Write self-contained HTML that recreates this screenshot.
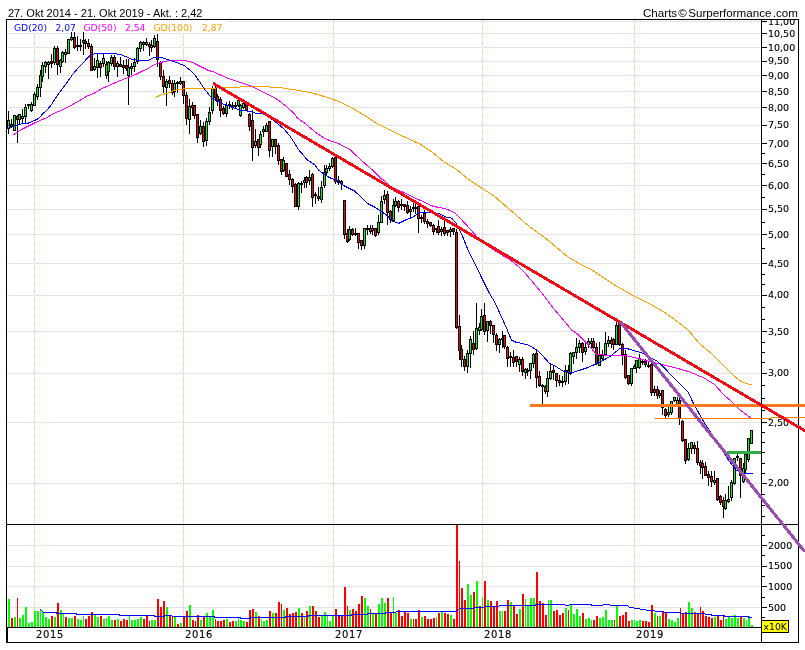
<!DOCTYPE html>
<html><head><meta charset="utf-8"><title>Chart</title>
<style>html,body{margin:0;padding:0;background:#fff;overflow:hidden}svg{display:block}</style>
</head><body>
<svg width="805" height="650" viewBox="0 0 805 650" shape-rendering="crispEdges">
<rect x="0" y="0" width="805" height="650" fill="#fff"/>
<path d="M7 21.5H761 M7 33.5H761 M7 47.5H761 M7 61.5H761 M7 75.5H761 M7 91.5H761 M7 107.5H761 M7 125.5H761 M7 143.5H761 M7 163.5H761 M7 185.5H761 M7 209.5H761 M7 234.5H761 M7 263.5H761 M7 295.5H761 M7 331.5H761 M7 373.5H761 M7 422.5H761 M7 483.5H761 M7 607.5H761 M7 586.5H761 M7 566.5H761 M7 545.5H761" stroke="#ffcdff" stroke-width="1" stroke-dasharray="1 1" fill="none"/>
<path d="M7 21.5H761 M7 33.5H761 M7 47.5H761 M7 61.5H761 M7 75.5H761 M7 91.5H761 M7 107.5H761 M7 125.5H761 M7 143.5H761 M7 163.5H761 M7 185.5H761 M7 209.5H761 M7 234.5H761 M7 263.5H761 M7 295.5H761 M7 331.5H761 M7 373.5H761 M7 422.5H761 M7 483.5H761 M7 607.5H761 M7 586.5H761 M7 566.5H761 M7 545.5H761" stroke="#cdf5cd" stroke-width="1" stroke-dasharray="1 1" stroke-dashoffset="1" fill="none"/>
<path d="M34.5 20V524 M34.5 525V627 M183.5 20V524 M183.5 525V627 M333.5 20V524 M333.5 525V627 M482.5 20V524 M482.5 525V627 M634.5 20V524 M634.5 525V627" stroke="#cdcdff" stroke-width="1" stroke-dasharray="1 1" fill="none"/>
<path d="M34.5 20V524 M34.5 525V627 M183.5 20V524 M183.5 525V627 M333.5 20V524 M333.5 525V627 M482.5 20V524 M482.5 525V627 M634.5 20V524 M634.5 525V627" stroke="#fff5b4" stroke-width="1" stroke-dasharray="1 1" stroke-dashoffset="1" fill="none"/>
<rect x="7" y="20" width="220" height="13" fill="#fff"/>
<path d="M8.5 111V134 M11.5 119V128 M14.5 115V131 M17.5 115V143 M19.5 114V124 M22.5 109V124 M25.5 104V123 M28.5 104V109 M31.5 102V112 M34.5 92V106 M37.5 84V100 M40.5 70V97 M42.5 62V82 M45.5 61V73 M48.5 61V79 M51.5 54V68 M54.5 46V65 M57.5 46V75 M60.5 59V73 M62.5 51V63 M65.5 49V63 M68.5 39V54 M71.5 32V41 M74.5 32V49 M77.5 36V51 M80.5 39V51 M83.5 32V55 M85.5 39V49 M88.5 39V49 M91.5 44V71 M94.5 58V71 M97.5 54V78 M100.5 61V77 M103.5 54V67 M106.5 61V79 M108.5 61V82 M111.5 55V66 M114.5 55V70 M117.5 61V77 M120.5 57V67 M123.5 60V74 M126.5 59V71 M128.5 59V105 M131.5 63V75 M134.5 58V72 M137.5 47V64 M140.5 41V52 M143.5 41V51 M146.5 38V46 M149.5 42V56 M151.5 40V52 M154.5 35V48 M157.5 34V67 M160.5 61V80 M163.5 70V93 M166.5 79V106 M169.5 76V88 M172.5 80V95 M174.5 80V97 M177.5 81V93 M180.5 77V85 M183.5 81V104 M186.5 92V125 M189.5 99V134 M192.5 102V116 M194.5 105V119 M197.5 114V143 M200.5 120V135 M203.5 122V147 M206.5 118V146 M209.5 107V125 M212.5 86V114 M215.5 86V101 M217.5 94V106 M220.5 97V117 M223.5 106V115 M226.5 102V117 M229.5 101V109 M232.5 102V110 M235.5 102V109 M238.5 100V107 M240.5 104V117 M243.5 103V109 M246.5 104V111 M249.5 113V131 M252.5 110V161 M255.5 129V148 M258.5 139V156 M260.5 131V148 M263.5 126V137 M266.5 123V132 M269.5 121V157 M272.5 139V157 M275.5 139V154 M278.5 143V165 M281.5 159V175 M283.5 157V172 M286.5 163V177 M289.5 170V185 M292.5 178V193 M295.5 183V207 M298.5 182V210 M301.5 181V193 M304.5 177V188 M306.5 176V188 M309.5 170V185 M312.5 173V207 M315.5 192V204 M318.5 187V201 M321.5 181V203 M324.5 165V188 M326.5 165V175 M329.5 163V171 M332.5 157V168 M335.5 157V184 M338.5 176V185 M341.5 180V190 M344.5 200V239 M347.5 229V243 M349.5 226V241 M352.5 228V236 M355.5 228V236 M358.5 233V249 M361.5 240V250 M364.5 228V249 M367.5 225V235 M370.5 225V234 M372.5 225V235 M375.5 228V237 M378.5 215V235 M381.5 196V223 M384.5 190V204 M387.5 191V225 M390.5 210V223 M393.5 199V221 M395.5 197V207 M398.5 200V212 M401.5 199V210 M404.5 204V211 M407.5 201V214 M410.5 206V217 M413.5 203V212 M415.5 204V214 M418.5 206V233 M421.5 215V223 M424.5 210V224 M427.5 219V228 M430.5 222V227 M433.5 224V235 M436.5 228V233 M438.5 220V235 M441.5 227V236 M444.5 220V236 M447.5 230V236 M450.5 227V237 M453.5 228V235 M456.5 229V329 M459.5 315V360 M461.5 345V367 M464.5 356V371 M467.5 350V373 M470.5 336V368 M473.5 331V355 M476.5 303V350 M479.5 323V335 M481.5 309V331 M484.5 303V335 M487.5 321V342 M490.5 320V334 M493.5 325V343 M496.5 333V351 M499.5 338V353 M502.5 331V348 M504.5 335V349 M507.5 346V367 M510.5 352V367 M513.5 350V367 M516.5 356V367 M519.5 357V372 M522.5 357V376 M525.5 368V379 M527.5 368V376 M530.5 363V379 M533.5 353V368 M536.5 350V388 M539.5 371V387 M542.5 384V405 M545.5 385V394 M547.5 371V397 M550.5 364V380 M553.5 366V380 M556.5 373V387 M559.5 375V386 M562.5 376V387 M565.5 365V385 M568.5 365V384 M570.5 352V375 M573.5 352V364 M576.5 338V359 M579.5 340V353 M582.5 342V362 M585.5 343V355 M588.5 338V348 M591.5 338V348 M593.5 338V349 M596.5 343V365 M599.5 342V366 M602.5 350V361 M605.5 332V356 M608.5 336V347 M611.5 337V348 M613.5 338V350 M616.5 322V345 M619.5 321V346 M622.5 343V365 M625.5 350V379 M628.5 375V385 M631.5 368V386 M634.5 364V369 M636.5 360V373 M639.5 354V369 M642.5 359V365 M645.5 359V367 M648.5 361V368 M651.5 363V396 M654.5 386V396 M657.5 386V399 M659.5 390V398 M662.5 390V415 M665.5 408V419 M668.5 404V417 M671.5 401V415 M674.5 397V402 M677.5 397V406 M679.5 398V425 M682.5 420V442 M685.5 439V464 M688.5 443V461 M691.5 442V454 M694.5 442V454 M697.5 441V465 M700.5 460V474 M702.5 460V479 M705.5 462V476 M708.5 471V486 M711.5 471V487 M714.5 471V485 M717.5 478V501 M720.5 495V505 M723.5 497V518 M725.5 494V510 M728.5 486V503 M731.5 480V501 M734.5 458V485 M737.5 454V461 M740.5 458V498 M743.5 463V483 M745.5 453V473 M748.5 438V462 M751.5 430V444" stroke="#000" stroke-width="1" fill="none"/>
<path d="M7 120h3v9h-3z M10 124h3v3h-3z M13 115h3v16h-3z M16 116h3v4h-3z M18 114h3v6h-3z M21 116h3v3h-3z M24 107h3v10h-3z M27 104h3v2h-3z M30 104h3v7h-3z M33 94h3v12h-3z M36 87h3v10h-3z M39 75h3v13h-3z M41 65h3v12h-3z M44 62h3v5h-3z M47 62h3v3h-3z M50 61h3v3h-3z M53 48h3v15h-3z M56 48h3v17h-3z M59 60h3v7h-3z M61 52h3v10h-3z M64 52h3v3h-3z M67 39h3v15h-3z M70 37h3v3h-3z M73 37h3v11h-3z M76 45h3v2h-3z M79 45h3v2h-3z M82 40h3v3h-3z M84 41h3v3h-3z M87 43h3v4h-3z M90 46h3v25h-3z M93 66h3v4h-3z M96 60h3v8h-3z M99 63h3v5h-3z M102 58h3v6h-3z M105 64h3v12h-3z M107 62h3v10h-3z M110 57h3v7h-3z M113 57h3v10h-3z M116 63h3v4h-3z M119 64h3v3h-3z M122 65h3v3h-3z M125 65h3v4h-3z M127 67h3v9h-3z M130 66h3v3h-3z M133 62h3v5h-3z M136 48h3v14h-3z M139 42h3v7h-3z M142 42h3v3h-3z M145 42h3v3h-3z M148 44h3v3h-3z M150 45h3v3h-3z M153 38h3v9h-3z M156 41h3v19h-3z M159 62h3v15h-3z M162 76h3v11h-3z M165 81h3v7h-3z M168 80h3v4h-3z M171 83h3v10h-3z M173 83h3v9h-3z M176 82h3v2h-3z M179 81h3v3h-3z M182 81h3v15h-3z M185 95h3v24h-3z M188 106h3v14h-3z M191 105h3v3h-3z M193 105h3v11h-3z M196 114h3v24h-3z M199 126h3v8h-3z M202 126h3v16h-3z M205 121h3v20h-3z M208 112h3v10h-3z M211 88h3v23h-3z M214 88h3v10h-3z M216 96h3v6h-3z M219 99h3v12h-3z M222 108h3v6h-3z M225 105h3v9h-3z M228 104h3v2h-3z M231 105h3v3h-3z M234 105h3v2h-3z M237 100h3v6h-3z M239 105h3v11h-3z M242 103h3v5h-3z M245 104h3v7h-3z M248 114h3v13h-3z M251 120h3v28h-3z M254 141h3v5h-3z M257 139h3v9h-3z M259 134h3v11h-3z M262 129h3v3h-3z M265 125h3v7h-3z M268 121h3v30h-3z M271 139h3v8h-3z M274 139h3v8h-3z M277 145h3v16h-3z M280 159h3v13h-3z M282 160h3v11h-3z M285 163h3v14h-3z M288 174h3v6h-3z M291 179h3v8h-3z M294 184h3v23h-3z M297 183h3v24h-3z M300 183h3v2h-3z M303 180h3v3h-3z M305 177h3v6h-3z M308 177h3v4h-3z M311 174h3v24h-3z M314 194h3v2h-3z M317 196h3v3h-3z M320 187h3v13h-3z M323 172h3v14h-3z M325 168h3v5h-3z M328 166h3v3h-3z M331 158h3v9h-3z M334 157h3v25h-3z M337 180h3v3h-3z M340 181h3v3h-3z M343 200h3v35h-3z M346 233h3v9h-3z M348 229h3v11h-3z M351 229h3v6h-3z M354 233h3v2h-3z M357 233h3v10h-3z M360 240h3v6h-3z M363 228h3v18h-3z M366 228h3v2h-3z M369 228h3v4h-3z M371 228h3v3h-3z M374 228h3v8h-3z M377 222h3v11h-3z M380 201h3v22h-3z M383 195h3v5h-3z M386 194h3v19h-3z M389 211h3v9h-3z M392 205h3v16h-3z M394 201h3v5h-3z M397 201h3v7h-3z M400 204h3v2h-3z M403 204h3v3h-3z M406 205h3v8h-3z M409 209h3v3h-3z M412 207h3v2h-3z M414 207h3v2h-3z M417 206h3v13h-3z M420 217h3v2h-3z M423 213h3v9h-3z M426 221h3v3h-3z M429 222h3v4h-3z M432 225h3v7h-3z M435 228h3v2h-3z M437 226h3v7h-3z M440 229h3v3h-3z M443 227h3v7h-3z M446 230h3v3h-3z M449 229h3v3h-3z M452 228h3v4h-3z M455 232h3v96h-3z M458 326h3v25h-3z M460 349h3v11h-3z M463 359h3v8h-3z M466 353h3v14h-3z M469 339h3v15h-3z M472 343h3v7h-3z M475 328h3v21h-3z M478 327h3v4h-3z M480 316h3v14h-3z M483 315h3v17h-3z M486 321h3v10h-3z M489 321h3v5h-3z M492 325h3v10h-3z M495 335h3v10h-3z M498 339h3v6h-3z M501 338h3v2h-3z M503 335h3v12h-3z M506 347h3v12h-3z M509 356h3v2h-3z M512 357h3v6h-3z M515 356h3v6h-3z M518 359h3v6h-3z M521 359h3v13h-3z M524 369h3v4h-3z M526 370h3v2h-3z M529 363h3v8h-3z M532 354h3v10h-3z M535 353h3v25h-3z M538 376h3v10h-3z M541 385h3v2h-3z M544 386h3v6h-3z M546 378h3v14h-3z M549 371h3v8h-3z M552 370h3v3h-3z M555 373h3v8h-3z M558 380h3v3h-3z M561 381h3v2h-3z M564 370h3v12h-3z M567 370h3v3h-3z M569 353h3v21h-3z M572 352h3v5h-3z M575 347h3v6h-3z M578 343h3v5h-3z M581 343h3v10h-3z M584 347h3v5h-3z M587 341h3v4h-3z M590 341h3v3h-3z M592 341h3v7h-3z M595 347h3v17h-3z M598 355h3v11h-3z M601 355h3v4h-3z M604 343h3v12h-3z M607 340h3v4h-3z M610 340h3v4h-3z M612 339h3v6h-3z M615 325h3v20h-3z M618 321h3v24h-3z M621 344h3v11h-3z M624 354h3v24h-3z M627 375h3v9h-3z M630 368h3v16h-3z M633 366h3v3h-3z M635 360h3v8h-3z M638 358h3v10h-3z M641 361h3v2h-3z M644 361h3v4h-3z M647 365h3v2h-3z M650 364h3v29h-3z M653 389h3v4h-3z M656 389h3v7h-3z M658 393h3v3h-3z M661 390h3v18h-3z M664 409h3v7h-3z M667 412h3v3h-3z M670 401h3v12h-3z M673 397h3v4h-3z M676 400h3v5h-3z M678 400h3v19h-3z M681 421h3v20h-3z M684 439h3v22h-3z M687 448h3v12h-3z M690 442h3v7h-3z M693 445h3v4h-3z M696 448h3v15h-3z M699 462h3v4h-3z M701 463h3v5h-3z M704 466h3v10h-3z M707 474h3v4h-3z M710 476h3v6h-3z M713 480h3v3h-3z M716 478h3v22h-3z M719 496h3v7h-3z M722 500h3v7h-3z M724 500h3v9h-3z M727 499h3v3h-3z M730 482h3v16h-3z M733 458h3v26h-3z M736 456h3v2h-3z M739 458h3v18h-3z M742 468h3v14h-3z M744 454h3v16h-3z M747 438h3v22h-3z M750 430h3v14h-3z" fill="#000"/>
<path d="M8 121h1v7h-1z M14 116h1v14h-1z M19 115h1v4h-1z M22 117h1v1h-1z M25 108h1v8h-1z M31 105h1v5h-1z M34 95h1v10h-1z M37 88h1v8h-1z M40 76h1v11h-1z M42 66h1v10h-1z M45 63h1v3h-1z M48 63h1v1h-1z M54 49h1v13h-1z M60 61h1v5h-1z M62 53h1v8h-1z M65 53h1v1h-1z M68 40h1v13h-1z M71 38h1v1h-1z M83 41h1v1h-1z M94 67h1v2h-1z M97 61h1v6h-1z M103 59h1v4h-1z M106 65h1v10h-1z M108 63h1v8h-1z M111 58h1v5h-1z M117 64h1v2h-1z M128 68h1v7h-1z M131 67h1v1h-1z M134 63h1v3h-1z M137 49h1v12h-1z M140 43h1v5h-1z M146 43h1v1h-1z M151 46h1v1h-1z M154 39h1v7h-1z M166 82h1v5h-1z M174 84h1v7h-1z M180 82h1v1h-1z M189 107h1v12h-1z M200 127h1v6h-1z M206 122h1v18h-1z M209 113h1v8h-1z M212 89h1v21h-1z M226 106h1v7h-1z M238 101h1v4h-1z M240 106h1v9h-1z M243 104h1v3h-1z M255 142h1v3h-1z M260 135h1v9h-1z M263 130h1v1h-1z M266 126h1v5h-1z M272 140h1v6h-1z M283 161h1v9h-1z M298 184h1v22h-1z M304 181h1v1h-1z M309 178h1v2h-1z M321 188h1v11h-1z M324 173h1v12h-1z M326 169h1v3h-1z M329 167h1v1h-1z M332 159h1v7h-1z M349 230h1v9h-1z M364 229h1v16h-1z M372 229h1v1h-1z M378 223h1v9h-1z M381 202h1v20h-1z M384 196h1v3h-1z M393 206h1v14h-1z M395 202h1v3h-1z M410 210h1v1h-1z M441 230h1v1h-1z M450 230h1v1h-1z M467 354h1v12h-1z M470 340h1v13h-1z M476 329h1v19h-1z M479 328h1v2h-1z M481 317h1v12h-1z M487 322h1v8h-1z M499 340h1v4h-1z M519 360h1v4h-1z M525 370h1v2h-1z M530 364h1v6h-1z M533 355h1v8h-1z M547 379h1v12h-1z M550 372h1v6h-1z M565 371h1v10h-1z M570 354h1v19h-1z M573 353h1v3h-1z M576 348h1v4h-1z M579 344h1v3h-1z M585 348h1v3h-1z M588 342h1v2h-1z M591 342h1v1h-1z M599 356h1v9h-1z M602 356h1v2h-1z M605 344h1v10h-1z M608 341h1v2h-1z M616 326h1v18h-1z M631 369h1v14h-1z M634 367h1v1h-1z M636 361h1v6h-1z M639 359h1v8h-1z M659 394h1v1h-1z M668 413h1v1h-1z M671 402h1v10h-1z M674 398h1v2h-1z M677 401h1v3h-1z M688 449h1v10h-1z M691 443h1v5h-1z M714 481h1v1h-1z M725 501h1v7h-1z M728 500h1v1h-1z M731 483h1v14h-1z M734 459h1v24h-1z M743 469h1v12h-1z M745 455h1v14h-1z M748 439h1v20h-1z M751 431h1v12h-1z" fill="#00ff00"/>
<path d="M11 125h1v1h-1z M17 117h1v2h-1z M51 62h1v1h-1z M57 49h1v15h-1z M74 38h1v9h-1z M85 42h1v1h-1z M88 44h1v2h-1z M91 47h1v23h-1z M100 64h1v3h-1z M114 58h1v8h-1z M120 65h1v1h-1z M123 66h1v1h-1z M126 66h1v2h-1z M143 43h1v1h-1z M149 45h1v1h-1z M157 42h1v17h-1z M160 63h1v13h-1z M163 77h1v9h-1z M169 81h1v2h-1z M172 84h1v8h-1z M183 82h1v13h-1z M186 96h1v22h-1z M192 106h1v1h-1z M194 106h1v9h-1z M197 115h1v22h-1z M203 127h1v14h-1z M215 89h1v8h-1z M217 97h1v4h-1z M220 100h1v10h-1z M223 109h1v4h-1z M232 106h1v1h-1z M246 105h1v5h-1z M249 115h1v11h-1z M252 121h1v26h-1z M258 140h1v7h-1z M269 122h1v28h-1z M275 140h1v6h-1z M278 146h1v14h-1z M281 160h1v11h-1z M286 164h1v12h-1z M289 175h1v4h-1z M292 180h1v6h-1z M295 185h1v21h-1z M306 178h1v4h-1z M312 175h1v22h-1z M318 197h1v1h-1z M335 158h1v23h-1z M338 181h1v1h-1z M341 182h1v1h-1z M344 201h1v33h-1z M347 234h1v7h-1z M352 230h1v4h-1z M358 234h1v8h-1z M361 241h1v4h-1z M370 229h1v2h-1z M375 229h1v6h-1z M387 195h1v17h-1z M390 212h1v7h-1z M398 202h1v5h-1z M404 205h1v1h-1z M407 206h1v6h-1z M418 207h1v11h-1z M424 214h1v7h-1z M427 222h1v1h-1z M430 223h1v2h-1z M433 226h1v5h-1z M438 227h1v5h-1z M444 228h1v5h-1z M447 231h1v1h-1z M453 229h1v2h-1z M456 233h1v94h-1z M459 327h1v23h-1z M461 350h1v9h-1z M464 360h1v6h-1z M473 344h1v5h-1z M484 316h1v15h-1z M490 322h1v3h-1z M493 326h1v8h-1z M496 336h1v8h-1z M504 336h1v10h-1z M507 348h1v10h-1z M513 358h1v4h-1z M516 357h1v4h-1z M522 360h1v11h-1z M536 354h1v23h-1z M539 377h1v8h-1z M545 387h1v4h-1z M553 371h1v1h-1z M556 374h1v6h-1z M559 381h1v1h-1z M568 371h1v1h-1z M582 344h1v8h-1z M593 342h1v5h-1z M596 348h1v15h-1z M611 341h1v2h-1z M613 340h1v4h-1z M619 322h1v22h-1z M622 345h1v9h-1z M625 355h1v22h-1z M628 376h1v7h-1z M645 362h1v2h-1z M651 365h1v27h-1z M654 390h1v2h-1z M657 390h1v5h-1z M662 391h1v16h-1z M665 410h1v5h-1z M679 401h1v17h-1z M682 422h1v18h-1z M685 440h1v20h-1z M694 446h1v2h-1z M697 449h1v13h-1z M700 463h1v2h-1z M702 464h1v3h-1z M705 467h1v8h-1z M708 475h1v2h-1z M711 477h1v4h-1z M717 479h1v20h-1z M720 497h1v5h-1z M723 501h1v5h-1z M740 459h1v16h-1z" fill="#ff0000"/>
<path d="M8 599h2v28h-2z M14 617h2v10h-2z M19 618h2v9h-2z M22 615h2v12h-2z M25 607h2v20h-2z M28 623h2v4h-2z M31 622h2v5h-2z M34 611h2v16h-2z M37 611h2v16h-2z M40 609h1v18h-1z M42 612h2v15h-2z M45 617h2v10h-2z M48 619h2v8h-2z M54 617h2v10h-2z M60 610h2v17h-2z M63 614h1v13h-1z M68 618h2v9h-2z M71 618h2v9h-2z M77 619h2v8h-2z M80 620h2v7h-2z M83 616h1v11h-1z M94 615h2v12h-2z M97 617h2v10h-2z M103 619h2v8h-2z M106 618h1v9h-1z M108 616h2v11h-2z M111 620h2v7h-2z M117 619h2v8h-2z M129 616h1v11h-1z M131 620h2v7h-2z M134 620h2v7h-2z M137 619h2v8h-2z M140 617h2v10h-2z M151 620h2v7h-2z M154 620h2v7h-2z M166 607h2v20h-2z M174 617h2v10h-2z M180 623h2v4h-2z M189 605h2v22h-2z M200 620h2v7h-2z M206 613h2v14h-2z M209 617h2v10h-2z M212 610h2v17h-2z M226 619h2v8h-2z M235 621h2v6h-2z M238 618h1v9h-1z M240 620h2v7h-2z M243 621h2v6h-2z M255 612h2v15h-2z M261 619h1v8h-1z M263 621h2v6h-2z M266 620h2v7h-2z M272 613h2v14h-2z M283 610h2v17h-2z M298 608h2v19h-2z M304 617h1v10h-1z M309 606h2v21h-2z M321 616h2v11h-2z M324 612h2v15h-2z M327 616h1v11h-1z M329 621h2v6h-2z M332 616h2v11h-2z M349 610h2v17h-2z M364 598h2v29h-2z M367 606h2v21h-2z M372 614h2v13h-2z M378 604h2v23h-2z M381 598h2v29h-2z M384 603h2v24h-2z M393 597h1v30h-1z M395 613h2v14h-2z M410 619h2v8h-2z M421 617h2v10h-2z M436 617h1v10h-1z M441 612h2v15h-2z M450 615h2v12h-2z M467 584h2v43h-2z M470 595h2v32h-2z M476 581h2v46h-2z M482 597h1v30h-1z M487 600h2v27h-2z M499 611h2v16h-2z M502 611h1v16h-1z M510 602h2v25h-2z M519 609h2v18h-2z M525 599h1v28h-1z M527 606h2v21h-2z M530 598h2v29h-2z M533 598h2v29h-2z M548 600h1v27h-1z M550 600h2v27h-2z M565 608h2v19h-2z M570 605h2v22h-2z M573 614h2v13h-2z M576 609h2v18h-2z M579 616h2v11h-2z M585 619h2v8h-2z M588 618h2v9h-2z M591 620h1v7h-1z M599 618h2v9h-2z M602 617h2v10h-2z M605 610h2v17h-2z M608 620h2v7h-2z M611 620h2v7h-2z M616 606h2v21h-2z M631 620h2v7h-2z M634 620h1v7h-1z M636 621h2v6h-2z M639 620h2v7h-2z M654 613h2v14h-2z M659 616h2v11h-2z M668 619h2v8h-2z M671 620h2v7h-2z M674 622h2v5h-2z M677 618h2v9h-2z M688 602h2v25h-2z M691 608h2v19h-2z M714 617h2v10h-2z M725 619h2v8h-2z M728 617h2v10h-2z M731 618h2v9h-2z M734 615h2v12h-2z M737 618h2v9h-2z M743 618h2v9h-2z M746 620h1v7h-1z M748 616h2v11h-2z M751 625h2v2h-2z" fill="#00ff00"/>
<path d="M11 618h2v9h-2z M17 598h1v29h-1z M51 616h2v11h-2z M57 603h2v24h-2z M65 617h2v10h-2z M74 616h2v11h-2z M85 619h2v8h-2z M88 616h2v11h-2z M91 612h2v15h-2z M100 616h2v11h-2z M114 620h2v7h-2z M120 621h2v6h-2z M123 619h2v8h-2z M126 620h2v7h-2z M143 619h2v8h-2z M146 616h2v11h-2z M149 621h1v6h-1z M157 599h2v28h-2z M160 607h2v20h-2z M163 601h2v26h-2z M169 616h2v11h-2z M172 616h1v11h-1z M177 624h2v3h-2z M183 616h2v11h-2z M186 611h2v16h-2z M192 620h2v7h-2z M195 621h1v6h-1z M197 615h2v12h-2z M203 617h2v10h-2z M215 619h1v8h-1z M217 621h2v6h-2z M220 621h2v6h-2z M223 620h2v7h-2z M229 622h2v5h-2z M232 621h2v6h-2z M246 622h2v5h-2z M249 610h2v17h-2z M252 609h2v18h-2z M258 616h2v11h-2z M269 611h2v16h-2z M275 613h2v14h-2z M278 602h2v25h-2z M281 604h1v23h-1z M286 608h2v19h-2z M289 614h2v13h-2z M292 613h2v14h-2z M295 612h2v15h-2z M301 613h2v14h-2z M306 611h2v16h-2z M312 606h2v21h-2z M315 611h2v16h-2z M318 617h2v10h-2z M335 609h2v18h-2z M338 616h2v11h-2z M341 616h2v11h-2z M344 587h2v40h-2z M347 606h1v21h-1z M352 609h2v18h-2z M355 611h2v16h-2z M358 604h2v23h-2z M361 596h2v31h-2z M370 609h1v18h-1z M375 614h2v13h-2z M387 598h2v29h-2z M390 613h2v14h-2z M398 610h2v17h-2z M401 616h2v11h-2z M404 612h2v15h-2z M407 613h2v14h-2z M413 619h1v8h-1z M415 619h2v8h-2z M418 610h2v17h-2z M424 616h2v11h-2z M427 619h2v8h-2z M430 619h2v8h-2z M433 618h2v9h-2z M438 613h2v14h-2z M444 613h2v14h-2z M447 614h2v13h-2z M453 619h2v8h-2z M456 525h2v102h-2z M459 561h1v66h-1z M461 588h2v39h-2z M464 600h2v27h-2z M473 592h2v35h-2z M479 606h2v21h-2z M484 581h2v46h-2z M490 601h2v26h-2z M493 606h2v21h-2z M496 601h2v26h-2z M504 611h2v16h-2z M507 600h2v27h-2z M513 605h2v22h-2z M516 614h2v13h-2z M522 594h2v33h-2z M536 572h2v55h-2z M539 601h2v26h-2z M542 603h2v24h-2z M545 615h2v12h-2z M553 611h2v16h-2z M556 610h2v17h-2z M559 615h2v12h-2z M562 613h2v14h-2z M568 610h1v17h-1z M582 613h2v14h-2z M593 620h2v7h-2z M596 616h2v11h-2z M614 620h1v7h-1z M619 616h2v11h-2z M622 615h2v12h-2z M625 612h2v15h-2z M628 621h2v6h-2z M642 621h2v6h-2z M645 621h2v6h-2z M648 622h2v5h-2z M651 605h2v22h-2z M657 616h1v11h-1z M662 612h2v15h-2z M665 613h2v14h-2z M680 608h1v19h-1z M682 614h2v13h-2z M685 612h2v15h-2z M694 612h2v15h-2z M697 614h2v13h-2z M700 607h1v20h-1z M702 611h2v16h-2z M705 616h2v11h-2z M708 617h2v10h-2z M711 618h2v9h-2z M717 616h2v11h-2z M720 620h2v7h-2z M723 616h1v11h-1z M740 617h2v10h-2z" fill="#ff0000"/>
<polyline points="40.4,609.5 43.3,612.5 56.0,612.5 57.0,613.5 76.0,613.5 77.0,614.5 119.0,614.5 120.0,615.5 154.0,615.5 155.0,616.5 164.0,616.5 165.0,615.5 171.5,615.5 172.5,616.5 214.0,616.5 215.0,617.5 240.0,617.5 241.0,618.5 250.0,618.5 251.0,617.5 285.0,617.5 286.0,616.5 308.0,616.5 309.0,615.5 338.0,615.5 339.0,616.5 340.0,615.5 351.0,615.5 352.0,614.5 367.0,614.5 368.0,613.5 385.0,613.5 386.0,612.5 395.5,612.5 396.5,611.5 456.0,611.5 457.0,610.5 459.5,609.5 460.5,608.5 465.5,608.5 466.5,608.5 473.5,608.5 474.5,607.5 483.5,607.5 484.5,606.5 498.5,606.5 499.5,605.5 535.0,605.5 536.0,604.5 564.5,604.5 565.5,605.5 568.5,605.5 569.5,604.5 591.0,604.5 592.0,605.5 602.5,605.5 603.5,604.5 609.5,604.5 610.5,605.5 627.5,605.5 629.5,607.5 633.5,607.5 634.5,608.5 639.5,608.5 640.5,609.5 645.5,609.5 646.5,610.5 654.5,610.5 655.5,611.5 663.5,611.5 664.5,612.5 680.5,612.5 681.5,613.5 704.5,613.5 705.5,614.5 711.0,614.5 712.0,615.5 724.0,615.5 725.0,616.5 748.0,616.5 749.0,617.5 752.0,617.5" fill="none" stroke="#0000ff" stroke-width="1" shape-rendering="crispEdges"/>
<polyline points="154.8,97.7 160.0,95.3 164.6,94.0 170.8,92.1 174.5,90.3 183.7,88.9 192.3,88.5 212.4,88.3 224.8,87.4 239.7,87.4 241.0,86.5 245.0,86.3 260.0,86.4 280.0,87.6 296.0,90.0 312.0,93.0 328.0,97.6 340.0,102.0 352.0,108.0 364.0,115.0 376.0,123.0 388.0,129.0 400.0,135.0 420.0,144.0 432.0,152.0 444.0,162.0 456.0,169.0 468.0,179.0 480.0,187.0 494.0,196.0 508.0,208.0 524.0,222.0 534.0,230.0 544.0,237.0 556.0,247.0 568.0,257.0 580.0,264.0 592.0,270.0 604.0,278.0 616.0,286.0 620.0,288.0 632.0,295.0 650.0,304.0 664.0,312.0 678.0,322.0 688.0,330.0 700.0,344.0 712.0,354.0 724.0,366.0 734.0,376.0 742.0,382.0 748.0,384.0 751.6,384.0" fill="none" stroke="#ffa000" stroke-width="1" shape-rendering="crispEdges"/>
<polyline points="12.5,135.3 22.4,129.1 34.8,122.9 47.3,117.3 53.5,113.5 59.7,111.1 65.9,108.0 72.1,104.8 79.6,100.5 87.0,96.1 94.5,93.0 101.9,88.7 110.0,85.0 118.8,81.1 128.6,77.4 137.2,73.7 143.4,70.6 147.4,68.8 153.5,65.1 159.7,62.6 168.3,60.8 176.9,60.2 184.3,60.2 192.9,62.6 200.0,66.3 208.0,70.3 213.6,71.9 221.1,75.3 226.1,77.5 232.3,79.9 240.0,82.4 250.0,85.6 262.4,91.8 274.8,98.0 279.8,101.1 287.3,107.3 293.5,112.9 297.2,117.9 305.9,124.1 314.6,131.6 324.5,138.4 330.7,140.9 339.4,144.0 350.0,149.6 361.8,160.8 374.2,171.5 381.8,179.2 383.7,180.0 390.0,186.0 398.5,190.2 407.0,194.0 415.0,198.0 424.3,202.2 431.7,205.8 437.2,207.2 444.7,208.4 452.0,211.5 455.6,213.4 461.6,219.8 469.5,228.3 478.5,238.7 490.0,247.5 503.6,256.0 509.8,259.5 519.6,267.5 525.8,274.0 535.6,285.5 544.2,296.0 554.0,309.0 563.3,320.0 571.6,330.0 577.2,333.7 587.3,343.8 596.5,354.5 604.0,355.0 612.0,355.0 624.0,355.0 632.0,357.0 644.0,360.0 660.0,364.0 676.0,368.0 690.0,372.0 704.0,378.0 714.0,384.0 724.0,395.0 732.0,402.0 740.0,410.0 751.0,418.0" fill="none" stroke="#ff00ff" stroke-width="1" shape-rendering="crispEdges"/>
<polyline points="9.0,128.0 16.2,125.3 22.4,123.5 27.4,123.5 34.8,120.4 38.6,118.5 42.3,114.2 47.3,109.8 52.2,103.6 56.0,97.4 60.9,90.6 67.5,81.7 72.8,74.2 78.2,67.7 83.6,62.3 89.0,56.4 91.7,54.6 97.8,53.1 110.2,53.1 120.0,54.4 127.4,57.1 132.3,59.5 137.2,60.2 148.0,60.5 153.5,57.7 157.2,57.1 162.2,57.7 169.5,60.2 176.9,62.6 184.3,65.7 190.5,70.6 195.4,75.5 200.0,82.3 204.6,89.2 212.0,98.5 216.9,100.3 224.3,104.6 230.5,106.5 240.0,110.2 251.0,111.5 256.5,113.4 262.4,113.3 273.6,120.4 283.5,128.5 289.8,135.9 295.5,144.5 298.4,149.6 300.8,152.2 307.0,159.6 314.4,164.5 319.3,170.7 324.2,174.4 329.2,177.5 335.7,180.0 344.9,186.2 354.2,190.8 361.8,197.7 368.0,203.8 374.2,206.9 380.3,210.8 386.7,215.1 391.3,220.6 398.7,223.4 406.1,219.7 413.5,216.9 418.1,213.2 424.6,212.3 431.0,212.8 438.4,213.2 445.4,216.8 451.5,218.1 456.5,223.6 461.4,233.5 468.8,251.9 476.2,266.7 482.3,279.0 489.7,293.8 494.9,302.5 501.8,317.7 505.0,324.6 508.9,333.9 511.6,340.1 515.8,342.2 522.7,343.5 529.6,345.6 536.6,349.8 543.5,356.7 549.0,362.9 555.5,366.1 562.5,370.9 570.8,373.0 577.7,370.9 586.0,368.2 594.3,364.7 602.6,360.6 610.0,356.4 613.3,353.8 620.2,348.2 625.8,348.2 632.7,350.3 642.4,353.1 650.7,357.9 657.6,361.4 665.0,368.3 670.0,374.0 680.0,384.0 688.0,392.0 693.9,404.4 704.3,422.7 714.8,438.4 727.9,459.3 735.7,469.8 743.6,473.7 748.0,474.0 752.7,473.0" fill="none" stroke="#0000ff" stroke-width="1" shape-rendering="crispEdges"/>
<path d="M6.5 19.5H798.5V642.5H6.5Z M761.5 19.5V642.5 M7 524.5H798 M7 627.5H761 M7.5 628V642" stroke="#000" stroke-width="1" fill="none"/>
<path d="M762 21.5H767 M762 33.5H767 M762 47.5H767 M762 61.5H767 M762 75.5H767 M762 91.5H767 M762 107.5H767 M762 125.5H767 M762 143.5H767 M762 153.5H765 M762 163.5H767 M762 174.5H765 M762 185.5H767 M762 197.5H765 M762 209.5H767 M762 222.5H765 M762 234.5H767 M762 248.5H765 M762 263.5H767 M762 274.5H765 M762 284.5H765 M762 295.5H767 M762 307.5H765 M762 319.5H765 M762 331.5H767 M762 342.5H765 M762 352.5H765 M762 362.5H765 M762 373.5H767 M762 385.5H765 M762 398.5H765 M762 410.5H765 M762 422.5H767 M762 432.5H765 M762 442.5H765 M762 452.5H765 M762 463.5H765 M762 473.5H765 M762 483.5H767 M762 494.5H765 M762 505.5H765 M762 516.5H765 M762 607.5H767 M762 586.5H767 M762 566.5H767 M762 545.5H767 M762 617.5H765 M762 597.5H765 M762 576.5H765 M762 555.5H765 M762 535.5H765" stroke="#000" stroke-width="1" fill="none"/>
<g font-family="DejaVu Sans, Liberation Sans, sans-serif" font-size="9.5" fill="#000" stroke="#000" stroke-width="0.12"><text x="768" y="24.7">11,00</text><text x="768" y="37.3">10,50</text><text x="768" y="50.5">10,00</text><text x="768" y="64.4">9,50</text><text x="768" y="79.0">9,00</text><text x="768" y="94.5">8,50</text><text x="768" y="110.9">8,00</text><text x="768" y="128.3">7,50</text><text x="768" y="147.0">7,00</text><text x="768" y="167.1">6,50</text><text x="768" y="188.7">6,00</text><text x="768" y="212.3">5,50</text><text x="768" y="238.1">5,00</text><text x="768" y="266.6">4,50</text><text x="768" y="298.4">4,00</text><text x="768" y="334.6">3,50</text><text x="768" y="376.3">3,00</text><text x="768" y="425.6">2,50</text><text x="768" y="486.0">2,00</text><text x="768" y="610.7">500</text><text x="768" y="590.1">1000</text><text x="768" y="569.4">1500</text><text x="768" y="548.7">2000</text></g>
<rect x="762" y="0" width="36" height="19" fill="#fff"/>
<rect x="761.5" y="620.5" width="27" height="12" fill="#ff0" stroke="#000"/>
<text x="763.5" y="630.3" font-family="DejaVu Sans, Liberation Sans, sans-serif" font-size="9.3">x10K</text>
<g font-family="DejaVu Sans, Liberation Sans, sans-serif" font-size="10" letter-spacing="0.6" fill="#000" stroke="#000" stroke-width="0.12"><text x="36" y="638">2015</text><text x="185" y="638">2016</text><text x="335" y="638">2017</text><text x="484" y="638">2018</text><text x="636" y="638">2019</text></g>
<text x="8" y="17" font-family="Liberation Sans, Arial, sans-serif" font-size="11" fill="#000">27. Okt 2014 - 21. Okt 2019 - Akt. : 2,42</text>
<text y="17" font-family="Liberation Sans, Arial, sans-serif" font-size="11.6" fill="#000"><tspan x="643">Charts</tspan><tspan x="678.3">©</tspan><tspan x="688.3">Surperformance</tspan><tspan x="772.8">.com</tspan></text>
<g font-family="DejaVu Sans, Liberation Sans, sans-serif" font-size="9.2"><text x="14" y="30.8" fill="#0000ff">GD(20)</text><text x="55.5" y="30.8" fill="#0000ff">2,07</text><text x="83.5" y="30.8" fill="#ff00ff">GD(50)</text><text x="125" y="30.8" fill="#ff00ff">2,54</text><text x="153.5" y="30.8" fill="#ffa000">GD(100)</text><text x="202" y="30.8" fill="#ffa000">2,87</text></g>
<rect x="530" y="404" width="275" height="3" fill="#ff7a20"/>
<rect x="655" y="418" width="116" height="1" fill="#ff8000"/><rect x="771" y="417" width="34" height="1" fill="#ff8000"/>
<rect x="727" y="451" width="34" height="3" fill="#33aa44"/>
<polygon points="212.5,81.3 805,429.1 805,432.5 212.5,84.7" fill="#f00c14" shape-rendering="crispEdges"/>
<polygon points="618,321.5 803,552 807,552 622,321.5" fill="#9850b4" shape-rendering="crispEdges"/>
</svg>
</body></html>
